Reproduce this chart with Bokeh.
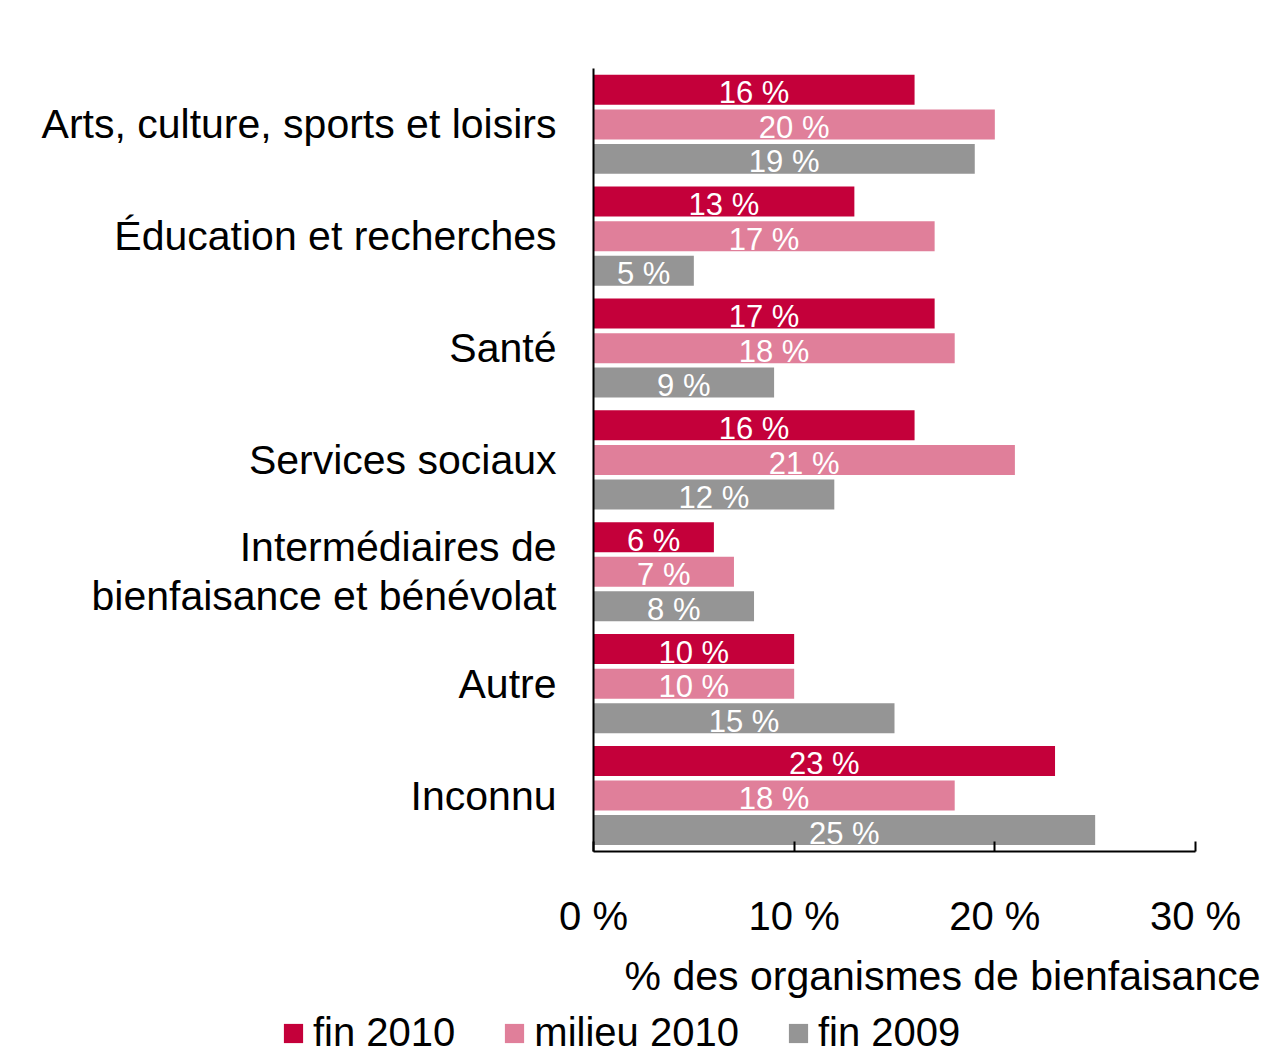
from bokeh.plotting import figure
from bokeh.layouts import column, row
from bokeh.models import (FactorRange, Range1d, FixedTicker, PrintfTickFormatter,
                          Title, Legend, LegendItem, ColumnDataSource)
from bokeh.transform import dodge
from bokeh.core.properties import value
from bokeh.embed import file_html
from bokeh.resources import INLINE

categories = ["Arts, culture, sports et loisirs", "Éducation et recherches", "Santé",
              "Services sociaux", "Intermédiaires de\nbienfaisance et bénévolat",
              "Autre", "Inconnu"]
fin_2010 = [16, 13, 17, 16, 6, 10, 23]
milieu_2010 = [20, 17, 18, 21, 7, 10, 18]
fin_2009 = [19, 5, 9, 12, 8, 15, 25]
series_names = ["fin 2010", "milieu 2010", "fin 2009"]
x_ticks = [0, 10, 20, 30]
x_axis_title = "% des organismes de bienfaisance"

colors = ["#C4003A", "#E07F9A", "#959595"]
offsets = [0.31, 0.0, -0.308]
FONT = "Liberation Sans"
series_values = [fin_2010, milieu_2010, fin_2009]

p = figure(width=1260, height=1008, output_backend="svg", toolbar_location=None,
           y_range=FactorRange(factors=list(reversed(categories)), range_padding=0),
           x_range=Range1d(0, 30),
           min_border_left=593, min_border_right=65, min_border_top=68, min_border_bottom=156)
p.outline_line_color = None
p.xgrid.visible = False
p.ygrid.visible = False
p.background_fill_color = "white"
p.border_fill_color = "white"

for name, vals, col, off in zip(series_names, series_values, colors, offsets):
    src = ColumnDataSource(dict(cat=categories, v=vals, half=[v / 2 for v in vals],
                                lab=[f"{v} %" for v in vals]))
    p.hbar(y=dodge("cat", off, range=p.y_range), right="v", left=0, height=0.268,
           source=src, fill_color=col, line_color=None)
    p.text(x="half", y=dodge("cat", off, range=p.y_range), text="lab", source=src,
           text_color="white", text_font=value(FONT), text_font_size="31px",
           text_align="center", text_baseline="middle", y_offset=3)

# axes
xa = p.xaxis[0]
xa.ticker = FixedTicker(ticks=x_ticks)
xa.formatter = PrintfTickFormatter(format="%d %%")
xa.major_tick_in = 10
xa.major_tick_out = 0
xa.minor_tick_line_color = None
xa.axis_line_color = "black"
xa.axis_line_width = 2
xa.major_tick_line_color = "black"
xa.major_tick_line_width = 2
xa.major_label_text_font = FONT
xa.major_label_text_font_size = "40px"
xa.major_label_text_color = "black"
xa.major_label_standoff = 42

ya = p.yaxis[0]
ya.major_tick_line_color = None
ya.minor_tick_line_color = None
ya.axis_line_color = "black"
ya.axis_line_width = 2
ya.major_label_text_font = FONT
ya.major_label_text_font_size = "41px"
ya.major_label_text_color = "black"
ya.major_label_text_line_height = 1.07
ya.major_label_standoff = 31

p.add_layout(Title(text=x_axis_title, align="right", offset=-65, text_font=FONT,
                   text_font_size="41px", text_font_style="normal", text_color="black",
                   standoff=20), "below")

# legend strip (its own bars lie outside its visible range; only the legend shows)
lg = figure(width=1260, height=47, output_backend="svg", toolbar_location=None,
            x_range=Range1d(-2, -1), y_range=Range1d(0, 1),
            x_axis_location=None, y_axis_location=None,
            min_border_left=0, min_border_right=0, min_border_top=0, min_border_bottom=0)
lg.outline_line_color = None
lg.xgrid.visible = False
lg.ygrid.visible = False
lg.background_fill_color = "white"
lg.border_fill_color = "white"
items = []
for name, vals, col in zip(series_names, series_values, colors):
    src = ColumnDataSource(dict(y=[i / len(vals) for i in range(len(vals))], r=vals))
    r = lg.hbar(y="y", right="r", left=0, height=0.1, source=src,
                fill_color=col, line_color=None)
    items.append(LegendItem(label=name, renderers=[r]))
legend = Legend(items=items, location=(281, 0), orientation="horizontal",
                glyph_width=24, glyph_height=24, label_standoff=8, spacing=47,
                padding=0, margin=0, border_line_color=None, background_fill_alpha=0,
                label_text_font=FONT, label_text_font_size="40px", label_text_color="black")
lg.add_layout(legend, "center")

layout = column(p, row(lg), spacing=0)
open("out.html", "w").write(file_html(layout, INLINE))
